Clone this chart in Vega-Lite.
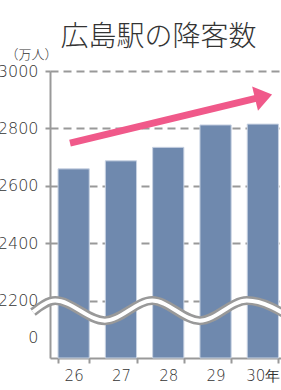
{
  "$schema": "https://vega.github.io/schema/vega-lite/v6.json",
  "width": 231,
  "height": 287,
  "autosize": {"type": "none"},
  "padding": {"left": 50, "top": 71, "right": 0, "bottom": 32},
  "background": "white",
  "title": {
    "text": "広島駅の降客数",
    "font": "Noto Sans CJK JP",
    "fontSize": 28,
    "fontWeight": 300,
    "color": "#333333",
    "anchor": "middle",
    "dx": -7,
    "offset": -4
  },
  "config": {"view": {"stroke": null}, "font": "DejaVu Sans"},
  "datasets": {
    "bars": [
      {"year": "26", "v": 2659},
      {"year": "27", "v": 2687},
      {"year": "28", "v": 2734},
      {"year": "29", "v": 2812},
      {"year": "30年", "v": 2815}
    ],
    "wave": [
      {"px": -0.36, "v": 2160},
      {"px": 0.11, "v": 2200},
      {"px": 1.16, "v": 2130},
      {"px": 2.16, "v": 2200},
      {"px": 3.17, "v": 2130},
      {"px": 4.16, "v": 2200},
      {"px": 5.2, "v": 2130}
    ],
    "arrow": [
      {"px": 0.423, "v": 2749},
      {"px": 4.438, "v": 2908}
    ],
    "head": [
      {"px": 4.438, "v": 2908}
    ]
  },
  "layer": [
    {
      "data": {"name": "bars"},
      "mark": {"type": "bar", "fill": "#6f89ae", "stroke": "#c8d2e2", "strokeWidth": 1},
      "encoding": {
        "x": {
          "field": "year", "type": "nominal", "sort": null,
          "scale": {"range": [0, 236.5], "paddingInner": 0.34, "paddingOuter": 0.17},
          "axis": {
            "title": null, "labelAngle": 0, "tickBand": "extent",
            "labelFontSize": 15, "labelColor": "#333333", "labelFont": "DejaVu Sans", "labelFontWeight": 200,
            "labelPadding": 5, "tickSize": 5, "tickColor": "#999999", "tickWidth": 2,
            "domainColor": "#999999", "domainWidth": 2
          }
        },
        "y": {
          "field": "v", "type": "quantitative",
          "scale": {"domain": [2000, 3000], "zero": false, "nice": false},
          "axis": {
            "values": [2070, 2200, 2400, 2600, 2800, 3000],
            "labelExpr": "datum.value == 2070 ? '0' : format(datum.value, 'd')",
            "labelFontSize": 16, "labelColor": "#333333", "labelFont": "DejaVu Sans", "labelFontWeight": 200,
            "labelPadding": 7, "tickSize": 5, "tickColor": "#999999", "tickWidth": 2,
            "tickOpacity": {"condition": {"test": "datum.value == 2070", "value": 0}, "value": 1},
            "grid": true, "gridColor": "#999999", "gridWidth": 2, "gridDash": [8, 5],
            "gridOpacity": {"condition": {"test": "datum.value == 2070", "value": 0}, "value": 1},
            "domainColor": "#999999", "domainWidth": 2,
            "title": "（万人）", "titleAngle": 0, "titleX": -45, "titleY": -17,
            "titleAlign": "left", "titleBaseline": "middle", "titleFont": "Noto Sans CJK JP",
            "titleFontSize": 13, "titleFontWeight": 300, "titleColor": "#333333"
          }
        },
        "y2": {"datum": 2000}
      }
    },
    {
      "data": {"name": "wave"},
      "mark": {"type": "line", "interpolate": "monotone", "stroke": "#999999", "strokeWidth": 9, "clip": false},
      "encoding": {
        "x": {"field": "px", "type": "quantitative", "scale": {"domain": [0, 5], "range": [0, 236.5], "nice": false, "zero": false}, "axis": null},
        "y": {"field": "v", "type": "quantitative"}
      }
    },
    {
      "data": {"name": "wave"},
      "mark": {"type": "line", "interpolate": "monotone", "stroke": "#ffffff", "strokeWidth": 4, "clip": false},
      "encoding": {
        "x": {"field": "px", "type": "quantitative", "scale": {"domain": [0, 5], "range": [0, 236.5], "nice": false, "zero": false}, "axis": null},
        "y": {"field": "v", "type": "quantitative"}
      }
    },
    {
      "data": {"name": "arrow"},
      "mark": {"type": "line", "stroke": "#f0598a", "strokeWidth": 7, "strokeCap": "butt"},
      "encoding": {
        "x": {"field": "px", "type": "quantitative", "scale": {"domain": [0, 5], "range": [0, 236.5], "nice": false, "zero": false}, "axis": null},
        "y": {"field": "v", "type": "quantitative"}
      }
    },
    {
      "data": {"name": "head"},
      "mark": {"type": "point", "shape": "M-0.4,-1L1,0L-0.4,1Z", "size": 625, "angle": -13.5, "filled": true, "fill": "#f0598a", "stroke": null, "opacity": 1},
      "encoding": {
        "x": {"field": "px", "type": "quantitative", "scale": {"domain": [0, 5], "range": [0, 236.5], "nice": false, "zero": false}, "axis": null},
        "y": {"field": "v", "type": "quantitative"}
      }
    }
  ],
  "resolve": {"scale": {"x": "independent"}}
}
